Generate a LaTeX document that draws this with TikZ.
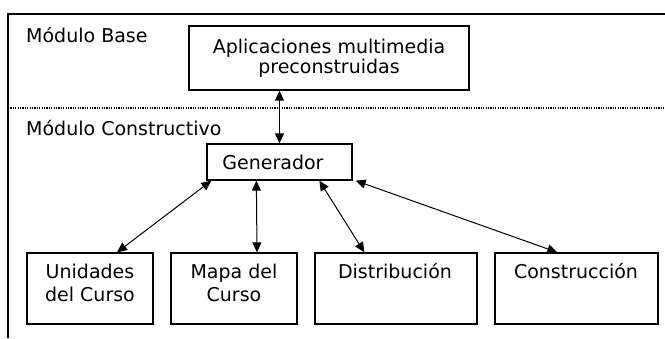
\documentclass[tikz,border=0pt]{standalone}
\usepackage{fontspec}
\setmainfont{DejaVu Sans}
\usetikzlibrary{arrows.meta,calc}
\begin{document}
\begin{tikzpicture}[x=1pt,y=-1pt,
  box/.style={draw=black,line width=1.3pt,inner sep=0pt,fill=none},
  lbl/.style={inner sep=0pt,anchor=base,font=\fontsize{19}{22}\selectfont},
  side/.style={inner sep=0pt,anchor=base west,font=\fontsize{19}{22}\selectfont},
  conn/.style={line width=1pt,{Triangle[length=10pt,width=9pt]}-{Triangle[length=10pt,width=9pt]}},
  frame/.style={line width=1.3pt},
  sep/.style={line width=1.2pt,dash pattern=on 1.2pt off 1.2pt}]
\useasboundingbox (0,0) rectangle (665,338);
\fill[white] (0,0) rectangle (665,338);
% frame and separator
\coordinate (fbl) at (8,338);
\coordinate (ftl) at (8,14);
\coordinate (ftr) at (665,14);
\coordinate (sl) at (8,108);
\coordinate (sr) at (665,108);
\draw[frame] (fbl) -- (ftl) -- (ftr);
\draw[sep] (sl) -- (sr);
% section titles
\node[side] (mb) at (26,42) {Módulo Base};
\node[side] (mc) at (26,135) {Módulo Constructivo};
% boxes
\node[box,minimum width=280,minimum height=64] (top) at (329,58) {};
\node[lbl] (t1) at (329,53) {Aplicaciones multimedia};
\node[lbl] (t2) at (329,73) {preconstruidas};
\node[box,minimum width=145,minimum height=36] (gen) at (279.5,162) {};
\node[lbl] (gt) at (273,169) {Generador};
\node[box,minimum width=126,minimum height=71] (u) at (90,288.5) {};
\node[lbl] (u1) at (90,278) {Unidades};
\node[lbl] (u2) at (90,301) {del Curso};
\node[box,minimum width=126,minimum height=71] (m) at (234,288.5) {};
\node[lbl] (m1) at (234,278) {Mapa del};
\node[lbl] (m2) at (234,301) {Curso};
\node[box,minimum width=162,minimum height=71] (d) at (396,288.5) {};
\node[lbl] (d1) at (395,278) {Distribución};
\node[box,minimum width=163,minimum height=71] (c) at (576.5,288.5) {};
\node[lbl] (c1) at (576,278) {Construcción};
% connectors
\draw[conn] (gen.north |- top.south) -- (gen.north);
\draw[conn] ($(gen.south west)+(5,0)$) -- ($(u.north)+(27,0)$);
\draw[conn] ($(gen.south west)+(50,0)$) -- ($(m.north)+(23,0)$);
\draw[conn] ($(gen.south west)+(113,0)$) -- ($(d.north west)+(50,0)$);
\draw[conn] ($(gen.south east)+(3,0)$) -- ($(c.north west)+(63,0)$);
\end{tikzpicture}
\end{document}
